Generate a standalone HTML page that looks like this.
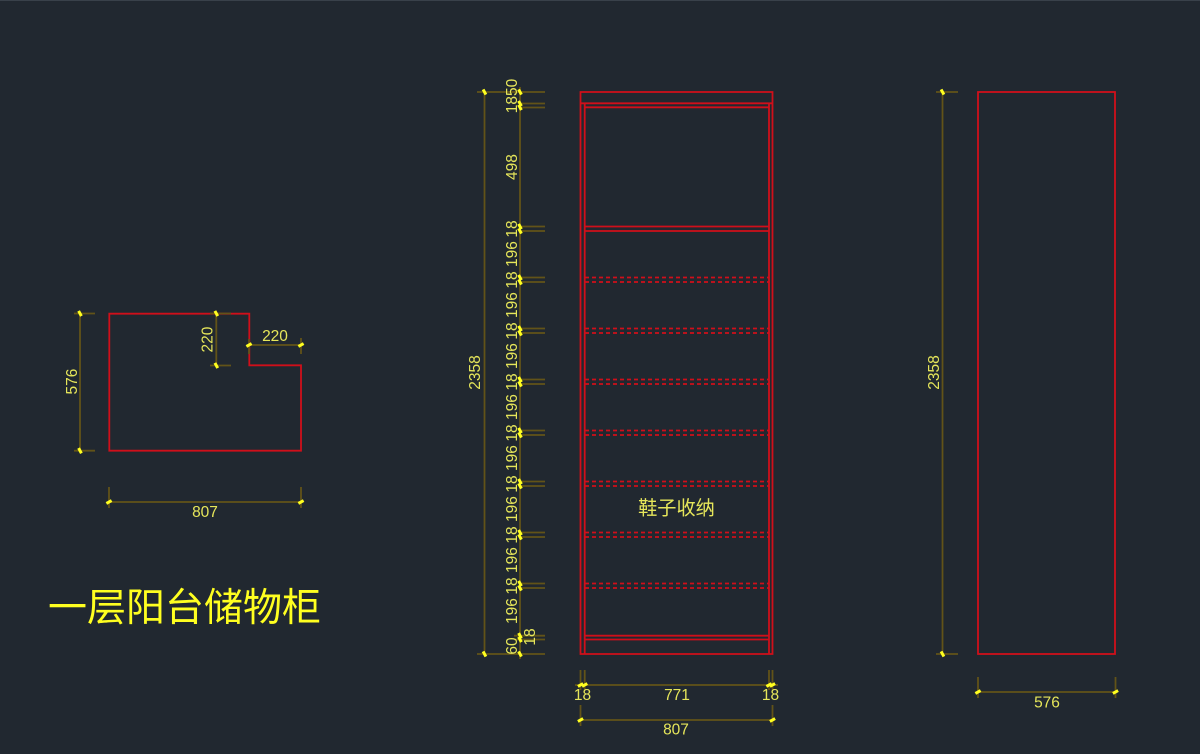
<!DOCTYPE html>
<html>
<head>
<meta charset="utf-8">
<style>
html,body{margin:0;padding:0;background:#212830;}
svg{display:block;}
text{font-family:"Liberation Sans","Noto Sans CJK SC",sans-serif;fill:#e6e65a;font-size:15.5px;text-anchor:middle;}
.r{fill:none;stroke:#d00f1a;stroke-width:1.8;}
.rd{fill:none;stroke:#d00f1a;stroke-width:1.8;stroke-dasharray:4 3;}
.d{fill:none;stroke:#625318;stroke-width:1.8;}
</style>
</head>
<body>
<svg width="1200" height="754" viewBox="0 0 1200 754" xmlns="http://www.w3.org/2000/svg">
<defs>
<path id="v" d="M-1.4 -2.6L1.4 2.6" stroke="#ffff20" stroke-width="3" fill="none"/>
<path id="h" d="M-2.6 1.4L2.6 -1.4" stroke="#ffff20" stroke-width="3" fill="none"/>
</defs>
<rect width="1200" height="754" fill="#212830"/>
<line x1="0" y1="0.5" x2="1200" y2="0.5" stroke="#39414a"/>

<!-- plan -->
<path class="r" d="M109.3 313.7H249.3V365.3H301V450.7H109.3Z"/>
<path class="d" d="M80 313.5V450.7M74 313.5H95M74 450.7H95"/>
<path class="d" d="M216.3 313.5V365.5M210 313.5H231M210 365.5H231"/>
<path class="d" d="M249 345H301M249 339V354M301 338V354"/>
<path class="d" d="M109 502H301M109 487V508M301 487V508"/>
<use href="#v" x="80" y="313.5"/><use href="#v" x="80" y="450.7"/>
<use href="#v" x="216.3" y="313.5"/><use href="#v" x="216.3" y="365.5"/>
<use href="#h" x="249" y="345"/><use href="#h" x="301" y="345"/>
<use href="#h" x="109" y="502"/><use href="#h" x="301" y="502"/>
<text transform="translate(77 381.5) rotate(-90)">576</text>
<text transform="translate(212.5 339.5) rotate(-90)">220</text>
<text x="275" y="341">220</text>
<text x="205" y="517">807</text>
<text x="184.5" y="621" style="font-size:39px;fill:#ffff20">一层阳台储物柜</text>

<!-- front elevation -->
<path class="r" d="M580.5 92H772.5V654H580.5ZM580.5 103.3H772.5M584.7 103.3V654M769 103.3V654M584.7 107.3H769M584.7 226.5H769M584.7 231H769M584.7 635.7H769M584.7 639.5H769"/>
<path class="rd" d="M585 277.5H769M585 282H769M585 328.5H769M585 333H769M585 379.5H769M585 384H769M585 430.5H769M585 435H769M585 481.5H769M585 486H769M585 532.5H769M585 537H769M585 583.5H769M585 588H769"/>
<text x="676.5" y="514.5" style="font-size:19.2px">鞋子收纳</text>

<!-- front dims: left -->
<path class="d" d="M484.5 92V654M477 92H545M477 654H545M520 87V659"/>
<path class="d" d="M520 103.5H545M520 107.5H545M520 226.5H545M520 231H545M520 277.5H545M520 282H545M520 328.5H545M520 333H545M520 379.5H545M520 384H545M520 430.5H545M520 435H545M520 481.5H545M520 486H545M520 532.5H545M520 537H545M520 583.5H545M520 588H545M514 635.7H545M514 639.5H545"/>
<use href="#v" x="484.5" y="92"/><use href="#v" x="484.5" y="654"/>
<use href="#v" x="520" y="92"/><use href="#v" x="520" y="654"/>
<use href="#v" x="520" y="103.5"/><use href="#v" x="520" y="107.5"/>
<use href="#v" x="520" y="226.5"/><use href="#v" x="520" y="231"/>
<use href="#v" x="520" y="277.5"/><use href="#v" x="520" y="282"/>
<use href="#v" x="520" y="328.5"/><use href="#v" x="520" y="333"/>
<use href="#v" x="520" y="379.5"/><use href="#v" x="520" y="384"/>
<use href="#v" x="520" y="430.5"/><use href="#v" x="520" y="435"/>
<use href="#v" x="520" y="481.5"/><use href="#v" x="520" y="486"/>
<use href="#v" x="520" y="532.5"/><use href="#v" x="520" y="537"/>
<use href="#v" x="520" y="583.5"/><use href="#v" x="520" y="588"/>
<use href="#v" x="520" y="635.7"/><use href="#v" x="520" y="639.5"/>
<text transform="translate(480 372.5) rotate(-90)">2358</text>
<text transform="translate(517 96) rotate(-90)">1850</text>
<text transform="translate(517 167) rotate(-90)">498</text>
<text transform="translate(517 229) rotate(-90)">18</text>
<text transform="translate(517 254) rotate(-90)">196</text>
<text transform="translate(517 280) rotate(-90)">18</text>
<text transform="translate(517 305) rotate(-90)">196</text>
<text transform="translate(517 331) rotate(-90)">18</text>
<text transform="translate(517 356) rotate(-90)">196</text>
<text transform="translate(517 382) rotate(-90)">18</text>
<text transform="translate(517 407) rotate(-90)">196</text>
<text transform="translate(517 433) rotate(-90)">18</text>
<text transform="translate(517 458) rotate(-90)">196</text>
<text transform="translate(517 484) rotate(-90)">18</text>
<text transform="translate(517 509) rotate(-90)">196</text>
<text transform="translate(517 535) rotate(-90)">18</text>
<text transform="translate(517 560) rotate(-90)">196</text>
<text transform="translate(517 586) rotate(-90)">18</text>
<text transform="translate(517 611) rotate(-90)">196</text>
<text transform="translate(517 646) rotate(-90)">60</text>
<text transform="translate(535 637) rotate(-90)">18</text>

<!-- front dims: bottom -->
<path class="d" d="M575 685H778M580.5 670V690M584.7 670V690M769 670V690M772.5 670V690"/>
<path class="d" d="M580.5 705V726M772.5 705V726M580.5 720H772.5"/>
<use href="#h" x="580.5" y="685"/><use href="#h" x="584.7" y="685"/><use href="#h" x="769" y="685"/><use href="#h" x="772.5" y="685"/>
<use href="#h" x="580.5" y="720"/><use href="#h" x="772.5" y="720"/>
<text x="582.5" y="700">18</text>
<text x="677" y="700">771</text>
<text x="770.5" y="700">18</text>
<text x="676" y="734.5">807</text>

<!-- side elevation -->
<rect class="r" x="978" y="92" width="137" height="562"/>
<path class="d" d="M942.5 92V654M936 92H958M936 654H958"/>
<path class="d" d="M978 692H1115.5M978 677V698M1115.5 677V698"/>
<use href="#v" x="942.5" y="92"/><use href="#v" x="942.5" y="654"/>
<use href="#h" x="978" y="692"/><use href="#h" x="1115.5" y="692"/>
<text transform="translate(939 372.5) rotate(-90)">2358</text>
<text x="1047" y="707.5">576</text>
</svg>
</body>
</html>
